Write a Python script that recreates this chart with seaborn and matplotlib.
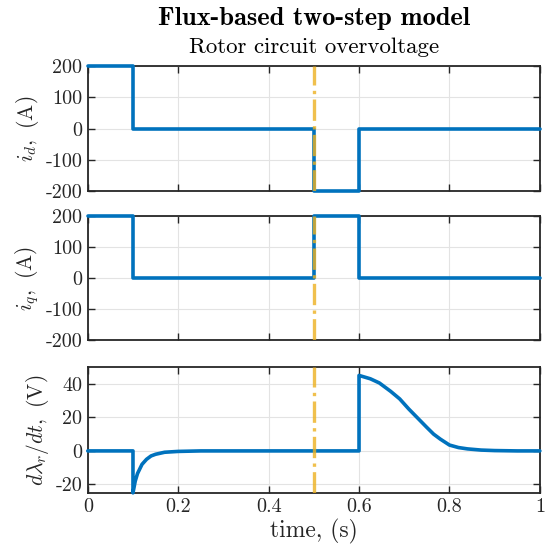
import numpy as np
import pandas as pd
import matplotlib
matplotlib.use("Agg")
import matplotlib.pyplot as plt
import seaborn as sns
from matplotlib.ticker import FuncFormatter

# step currents
t_step = [0, 0.1, 0.1, 0.5, 0.5, 0.6, 0.6, 1.0]
i_d = [200, 200, 0, 0, -200, -200, 0, 0]
i_q = [200, 200, 0, 0, 200, 200, 0, 0]

# rotor flux derivative
t_dl = [0, 0.1, 0.1, 0.105, 0.11, 0.12, 0.13, 0.14, 0.15, 0.17, 0.2, 0.25,
        0.6, 0.6, 0.625, 0.645, 0.67, 0.69, 0.71, 0.73, 0.75, 0.765, 0.78,
        0.8, 0.82, 0.84, 0.87, 0.9, 0.95, 1.0]
dlam = [0, 0, -25, -18, -13.5, -8, -5, -3, -2, -0.8, -0.3, 0,
        0, 45, 43, 40.5, 35.5, 31, 25, 19.5, 14, 10, 7,
        3.5, 2, 1.2, 0.5, 0.2, 0, 0]

t_event = 0.5
xticks = [0, 0.2, 0.4, 0.6, 0.8, 1]

sns.set_style("ticks")
plt.rcParams["font.family"] = "serif"
plt.rcParams["font.serif"] = ["cmr10"]
plt.rcParams["mathtext.fontset"] = "cm"
plt.rcParams["axes.unicode_minus"] = False
plt.rcParams["axes.formatter.use_mathtext"] = True

blue = "#0072BD"
yellow = "#EDB120"
frame = "#262626"
fs = 14.5

fig = plt.figure(figsize=(5.52, 5.47), dpi=100)
boxes = [[0.159, 0.651, 0.819, 0.228],
         [0.159, 0.378, 0.819, 0.227],
         [0.159, 0.099, 0.819, 0.230]]
axes = [fig.add_axes(b) for b in boxes]

def fmt(v, pos):
    if abs(v - round(v)) < 1e-9:
        return "%d" % round(v)
    return ("%g" % v)

panels = [
    (t_step, i_d, (-200, 200), [-200, -100, 0, 100, 200], r"$i_d,$ (A)"),
    (t_step, i_q, (-200, 200), [-200, -100, 0, 100, 200], r"$i_q,$ (A)"),
    (t_dl, dlam, (-25, 50), [-20, 0, 20, 40], r"$d\lambda_r/dt,$ (V)"),
]

for k, (ax, (x, y, ylim, yt, lab)) in enumerate(zip(axes, panels)):
    df = pd.DataFrame({"t": x, "v": y})
    sns.lineplot(data=df, x="t", y="v", ax=ax, estimator=None, sort=False,
                 color=blue, linewidth=2.6, zorder=3, clip_on=False)
    ax.axvline(t_event, color=yellow, linestyle="-.", linewidth=2.4,
               alpha=0.8, zorder=4)
    ax.set_xlim(0, 1)
    ax.set_ylim(*ylim)
    ax.set_yticks(yt)
    ax.set_xticks(xticks)
    ax.yaxis.set_major_formatter(FuncFormatter(fmt))
    ax.xaxis.set_major_formatter(FuncFormatter(fmt))
    ax.grid(True, color="#e3e3e3", linewidth=0.8)
    ax.set_axisbelow(True)
    ax.tick_params(direction="in", top=True, right=True, length=5,
                   width=1.0, color=frame, labelsize=fs, labelcolor=frame,
                   pad=4)
    for s in ax.spines.values():
        s.set_visible(True)
        s.set_color(frame)
        s.set_linewidth(1.3)
    ax.set_ylabel(lab, fontsize=15.5, color=frame, labelpad=3)
    if k < 2:
        ax.set_xlabel("")
        ax.tick_params(labelbottom=False)
    else:
        ax.set_xlabel("time, (s)", fontsize=17, color=frame, labelpad=2)

cx = 0.159 + 0.819 / 2
fig.text(cx, 1 - 18 / 547, "Flux-based two-step model", ha="center",
         va="center", fontsize=19, fontfamily="cmb10", color="black")
fig.text(cx, 1 - 47 / 547, "Rotor circuit overvoltage", ha="center",
         va="center", fontsize=16.5, color="black")

fig.savefig("out.png", dpi=100)
